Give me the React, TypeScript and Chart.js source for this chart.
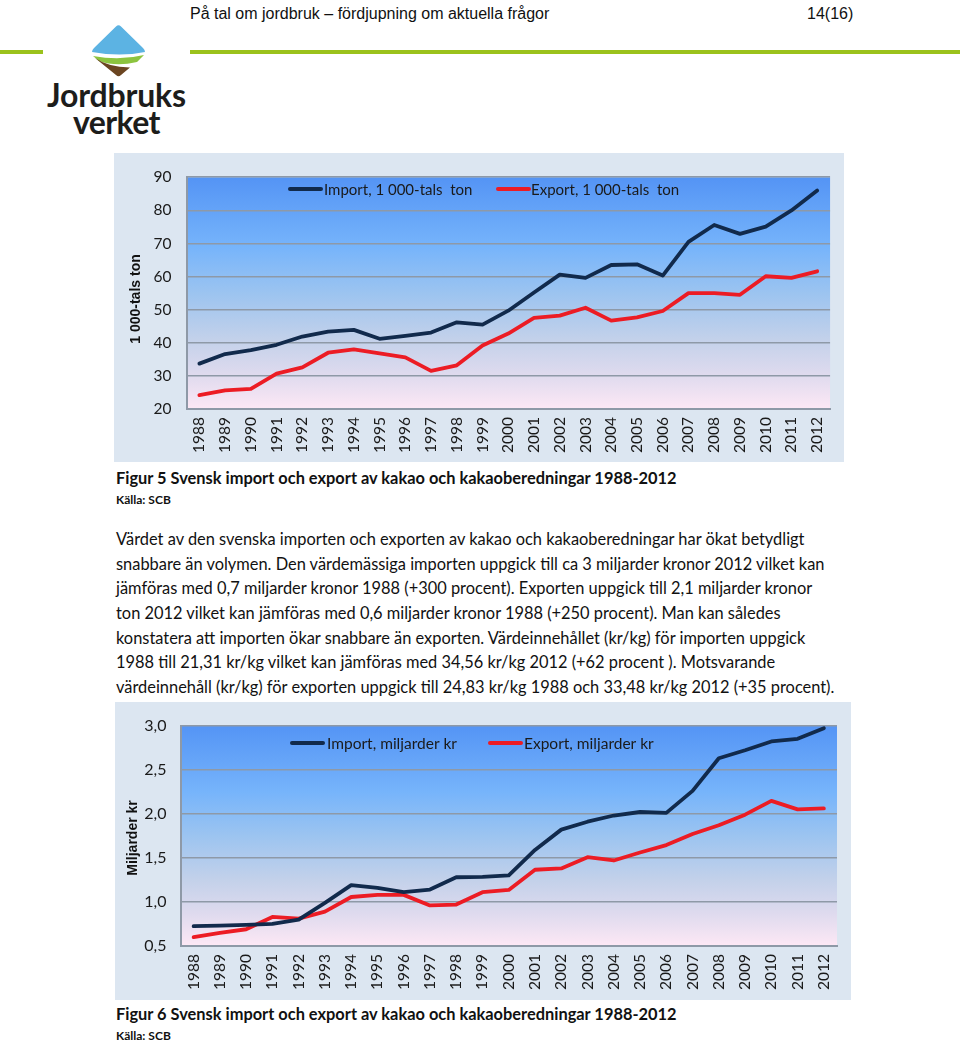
import React, { useEffect, useRef } from 'react';
import { Chart, registerables } from 'chart.js';

Chart.register(...registerables);

const years = ['1988', '1989', '1990', '1991', '1992', '1993', '1994', '1995', '1996', '1997', '1998', '1999', '2000', '2001', '2002', '2003', '2004', '2005', '2006', '2007', '2008', '2009', '2010', '2011', '2012'];

const importTon = [33.7, 36.6, 37.8, 39.4, 41.9, 43.4, 43.9, 41.2, 42.1, 43.1, 46.2, 45.5, 49.7, 55.2, 60.6, 59.6, 63.5, 63.7, 60.3, 70.5, 75.6, 72.9, 75.1, 80.0, 86.0];
const exportTon = [24.2, 25.6, 26.1, 30.7, 32.6, 37.0, 38.0, 36.8, 35.6, 31.5, 33.2, 39.2, 42.8, 47.5, 48.2, 50.6, 46.7, 47.7, 49.6, 55.0, 55.0, 54.5, 60.1, 59.6, 61.6];

const importKr = [0.725, 0.73, 0.74, 0.75, 0.8, 0.99, 1.19, 1.16, 1.11, 1.14, 1.28, 1.285, 1.3, 1.59, 1.82, 1.91, 1.98, 2.02, 2.01, 2.26, 2.63, 2.72, 2.82, 2.85, 2.97];
const exportKr = [0.6, 0.65, 0.69, 0.83, 0.81, 0.89, 1.056, 1.08, 1.08, 0.96, 0.97, 1.11, 1.136, 1.365, 1.38, 1.507, 1.47, 1.56, 1.645, 1.77, 1.87, 1.99, 2.146, 2.05, 2.06];

const tonLabels = ['Import, 1 000-tals  ton', 'Export, 1 000-tals  ton'];
const krLabels = ['Import, miljarder kr', 'Export, miljarder kr'];

const NAVY = '#112a4c';
const RED = '#ec1c24';

const paragraph = [
  'Värdet av den svenska importen och exporten av kakao och kakaoberedningar har ökat betydligt',
  'snabbare än volymen. Den värdemässiga importen uppgick till ca 3 miljarder kronor 2012 vilket kan',
  'jämföras med 0,7 miljarder kronor 1988 (+300 procent). Exporten uppgick till 2,1 miljarder kronor',
  'ton 2012 vilket kan jämföras med 0,6 miljarder kronor 1988 (+250 procent). Man kan således',
  'konstatera att importen ökar snabbare än exporten. Värdeinnehållet (kr/kg) för importen uppgick',
  '1988 till 21,31 kr/kg vilket kan jämföras med 34,56 kr/kg 2012 (+62 procent ). Motsvarande',
  'värdeinnehåll (kr/kg) för exporten uppgick till 24,83 kr/kg 1988 och 33,48 kr/kg 2012 (+35 procent).',
];

const decor = {
  id: 'decor',
  beforeDraw(chart: any) {
    const { ctx, chartArea: a } = chart;
    const g = ctx.createLinearGradient(0, a.top, 0, a.bottom);
    g.addColorStop(0, '#5494f5');
    g.addColorStop(0.3, '#76b4fb');
    g.addColorStop(0.5, '#9cc4f0');
    g.addColorStop(0.7, '#c3d1ea');
    g.addColorStop(0.85, '#dedaee');
    g.addColorStop(1, '#fde8f5');
    ctx.save();
    ctx.fillStyle = g;
    ctx.fillRect(a.left, a.top, a.right - a.left, a.bottom - a.top);
    ctx.restore();
  },
  afterDatasetsDraw(chart: any, _args: any, opts: any) {
    const { ctx } = chart;
    ctx.save();
    chart.data.datasets.forEach((ds: any, i: number) => {
      const p = opts.legend[i];
      ctx.strokeStyle = ds.borderColor;
      ctx.lineWidth = 4;
      ctx.lineCap = 'round';
      ctx.beginPath();
      ctx.moveTo(p.x, p.y);
      ctx.lineTo(p.x + 31, p.y);
      ctx.stroke();
      ctx.fillStyle = '#1a1a1a';
      ctx.font = opts.legendFont;
      ctx.textBaseline = 'middle';
      ctx.textAlign = 'left';
      ctx.fillText(ds.label, p.tx, p.y + 1);
    });
    ctx.translate(opts.titleX, opts.titleY);
    ctx.rotate(-Math.PI / 2);
    ctx.font = 'bold 14px "Liberation Sans", Arial, sans-serif';
    ctx.fillStyle = '#111';
    ctx.textAlign = 'center';
    ctx.textBaseline = 'middle';
    ctx.fillText(opts.title, 0, 0);
    ctx.restore();
  },
};

type ChartSpec = {
  width: number;
  height: number;
  imp: number[];
  exp: number[];
  labels: string[];
  min: number;
  max: number;
  step: number;
  fmt: (v: number) => string;
  yWidth: number;
  xHeight: number;
  padTop: number;
  padRight: number;
  yPad: number;
  yFont: number;
  title: string;
  titleX: number;
  titleY: number;
  legend: { x: number; tx: number; y: number }[];
  legendFont: string;
};

function LineChart({ spec }: { spec: ChartSpec }) {
  const ref = useRef<HTMLCanvasElement>(null);
  useEffect(() => {
    if (!ref.current) return;
    const chart = new Chart(ref.current, {
      type: 'line',
      data: {
        labels: years,
        datasets: [
          {
            label: spec.labels[0],
            data: spec.imp,
            borderColor: NAVY,
            backgroundColor: NAVY,
            borderWidth: 3.8,
            pointRadius: 0,
            tension: 0,
            borderJoinStyle: 'round',
            borderCapStyle: 'round',
          },
          {
            label: spec.labels[1],
            data: spec.exp,
            borderColor: RED,
            backgroundColor: RED,
            borderWidth: 3.8,
            pointRadius: 0,
            tension: 0,
            borderJoinStyle: 'round',
            borderCapStyle: 'round',
          },
        ],
      },
      options: {
        responsive: false,
        animation: false,
        devicePixelRatio: 1,
        layout: { padding: { top: spec.padTop, right: spec.padRight, left: 0, bottom: 0 } },
        plugins: {
          legend: { display: false },
          tooltip: { enabled: false },
          decor: {
            title: spec.title,
            titleX: spec.titleX,
            titleY: spec.titleY,
            legend: spec.legend,
            legendFont: spec.legendFont,
          },
        } as any,
        scales: {
          x: {
            offset: true,
            grid: { display: false, drawTicks: false },
            border: { display: true, color: '#8e99a7', width: 2 },
            ticks: {
              minRotation: 90,
              maxRotation: 90,
              autoSkip: false,
              padding: 8,
              color: '#1a1a1a',
              font: { family: 'Lato', size: 15.5 },
            },
            afterFit: (s: any) => {
              s.height = spec.xHeight;
            },
          },
          y: {
            min: spec.min,
            max: spec.max,
            grid: { color: '#8e99a7', lineWidth: 1.6, drawTicks: false },
            border: { display: true, color: '#8e99a7', width: 2 },
            ticks: {
              stepSize: spec.step,
              padding: spec.yPad,
              color: '#1a1a1a',
              font: { family: 'Lato', size: spec.yFont },
              callback: (v: any) => spec.fmt(Number(v)),
            },
            afterFit: (s: any) => {
              s.width = spec.yWidth;
            },
          },
        },
      },
      plugins: [decor],
    } as any);
    return () => chart.destroy();
  }, [spec]);
  return <canvas ref={ref} width={spec.width} height={spec.height} style={{ width: spec.width, height: spec.height, display: 'block' }} />;
}

const spec1: ChartSpec = {
  width: 730,
  height: 309,
  imp: importTon,
  exp: exportTon,
  labels: tonLabels,
  min: 20,
  max: 90,
  step: 10,
  fmt: (v) => String(v),
  yWidth: 72.5,
  xHeight: 53,
  padTop: 16,
  padRight: 10,
  yPad: 15,
  yFont: 15.5,
  title: '1 000-tals ton',
  titleX: 22,
  titleY: 146,
  legend: [
    { x: 176, tx: 210, y: 36 },
    { x: 384, tx: 417, y: 36 },
  ],
  legendFont: '15px Lato',
};

const spec2: ChartSpec = {
  width: 736,
  height: 298,
  imp: importKr,
  exp: exportKr,
  labels: krLabels,
  min: 0.5,
  max: 3.0,
  step: 0.5,
  fmt: (v) => v.toFixed(1).replace('.', ','),
  yWidth: 65.5,
  xHeight: 54,
  padTop: 15,
  padRight: 14,
  yPad: 14,
  yFont: 16,
  title: 'Miljarder kr',
  titleX: 18,
  titleY: 136,
  legend: [
    { x: 177, tx: 212, y: 41 },
    { x: 375, tx: 409, y: 41 },
  ],
  legendFont: '15.5px Lato',
};

const abs = (left: number, top: number, extra: React.CSSProperties = {}): React.CSSProperties => ({
  position: 'absolute',
  left,
  top,
  whiteSpace: 'nowrap',
  ...extra,
});

function Logo() {
  return (
    <>
      <svg style={abs(40, 20)} width={160} height={60} viewBox="0 0 160 60">
        <path d="M52,32 Q52,30 54,28 L76,6.5 Q78.5,4 81,6.5 L103,28 Q105,30 105,32 Q80,37 52,32 Z" fill="#5cb3e3" />
        <path d="M53,36 Q80,41 104,35 L97,42 Q76,47 59,41 Z" fill="#8cc43f" />
        <path d="M55,38 Q68,47 90,47.5 L81,55 Q78.5,57.5 76,55 Z" fill="#6b4521" />
      </svg>
      <div style={abs(47, 79, { font: 'bold 32px Lato', lineHeight: '32px', color: '#1d1d1b', letterSpacing: '-0.2px' })}>Jordbruks</div>
      <div style={abs(73, 106, { font: 'bold 32px Lato', lineHeight: '32px', color: '#1d1d1b', letterSpacing: '-0.6px' })}>verket</div>
    </>
  );
}

export default function App() {
  return (
    <div style={{ position: 'absolute', left: 0, top: 0, width: 960, height: 1043, background: '#fff', overflow: 'hidden' }}>
      <div style={abs(190, 5, { font: '16px "Liberation Sans", Arial, sans-serif', lineHeight: '18px', color: '#111' })}>
        På tal om jordbruk – fördjupning om aktuella frågor
      </div>
      <div style={abs(807, 5, { font: '16px "Liberation Sans", Arial, sans-serif', lineHeight: '18px', color: '#111' })}>14(16)</div>
      <div style={abs(0, 50, { width: 43, height: 4, background: '#9bc21c' })} />
      <div style={abs(190, 50, { width: 770, height: 4, background: '#9bc21c' })} />
      <Logo />

      <div style={abs(114, 153, { width: 730, height: 309, background: '#dce6f1' })}>
        <LineChart spec={spec1} />
      </div>

      <div style={abs(116, 468, { font: 'bold 16.4px Lato', lineHeight: '20px', color: '#111' })}>
        Figur 5 Svensk import och export av kakao och kakaoberedningar 1988-2012
      </div>
      <div style={abs(116, 492, { font: 'bold 12px Lato', lineHeight: '16px', color: '#111' })}>Källa: SCB</div>

      <div style={abs(116, 527, { font: '16.4px Lato', lineHeight: '24.67px', color: '#111' })}>
        {paragraph.map((l, i) => (
          <div key={i}>{l}</div>
        ))}
      </div>

      <div style={abs(115, 702, { width: 736, height: 298, background: '#dce6f1' })}>
        <LineChart spec={spec2} />
      </div>

      <div style={abs(116, 1004, { font: 'bold 16.4px Lato', lineHeight: '20px', color: '#111' })}>
        Figur 6 Svensk import och export av kakao och kakaoberedningar 1988-2012
      </div>
      <div style={abs(116, 1028, { font: 'bold 12px Lato', lineHeight: '16px', color: '#111' })}>Källa: SCB</div>
    </div>
  );
}
